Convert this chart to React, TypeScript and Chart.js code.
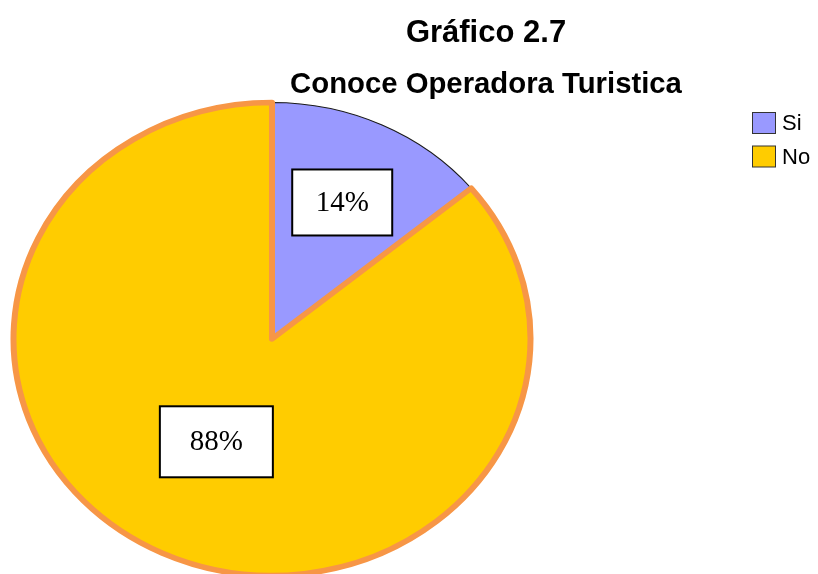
import React, { useEffect, useRef } from "react";
import { Chart, registerables } from "chart.js";

Chart.register(...registerables);

const titleLines = ["Gráfico 2.7", "Conoce Operadora Turistica"];
const categories = ["Si", "No"];
const values = [14, 86];
const valueLabels = ["14%", "88%"];
const sliceColors = ["#9999FF", "#FFCC00"];
const sliceBorderColors = ["#1a1a1a", "#F79646"];
const sliceBorderWidths = [1, 5.5];

// style constants
const ELLIPSE_SX = 1.093;
const PIE_RADIUS = 236.5;
const LABEL_RADIAL = [0.638, 0.485];
const LABEL_ANGLE_SHIFT = [0, 0.02];
const LABEL_BOX = [
  [100, 66],
  [113, 71],
];

const ellipsePlugin = {
  id: "ellipseAndLabels",
  beforeDatasetsDraw(chart: any) {
    const ca = chart.chartArea;
    const cx = (ca.left + ca.right) / 2;
    const cy = (ca.top + ca.bottom) / 2;
    const ctx = chart.ctx;
    ctx.save();
    ctx.translate(cx, cy);
    ctx.scale(ELLIPSE_SX, 1);
    ctx.translate(-cx, -cy);
  },
  afterDatasetsDraw(chart: any) {
    const ctx = chart.ctx;
    ctx.restore();
    const meta = chart.getDatasetMeta(0);
    meta.data.forEach((arc: any, i: number) => {
      const mid = (arc.startAngle + arc.endAngle) / 2 + LABEL_ANGLE_SHIFT[i];
      const r = arc.outerRadius * LABEL_RADIAL[i];
      const px = arc.x + Math.cos(mid) * r * ELLIPSE_SX;
      const py = arc.y + Math.sin(mid) * r;
      const [w, h] = LABEL_BOX[i];
      ctx.save();
      ctx.fillStyle = "#ffffff";
      ctx.fillRect(px - w / 2, py - h / 2, w, h);
      ctx.strokeStyle = "#000000";
      ctx.lineWidth = 2;
      ctx.strokeRect(px - w / 2, py - h / 2, w, h);
      ctx.fillStyle = "#000000";
      ctx.font = '29px "Liberation Serif", "Times New Roman", serif';
      ctx.textAlign = "center";
      ctx.textBaseline = "middle";
      ctx.fillText(valueLabels[i], px, py + 1);
      ctx.restore();
    });
  },
  afterDraw(chart: any) {
    const ctx = chart.ctx;
    ctx.save();
    ctx.fillStyle = "#000000";
    ctx.textAlign = "center";
    ctx.textBaseline = "alphabetic";
    ctx.font = 'bold 31px "Liberation Sans", Arial, sans-serif';
    ctx.fillText(titleLines[0], 486, 41.5);
    ctx.font = 'bold 29.3px "Liberation Sans", Arial, sans-serif';
    ctx.fillText(titleLines[1], 486, 93);
    // legend
    ctx.textAlign = "left";
    ctx.textBaseline = "middle";
    ctx.font = '22px "Liberation Sans", Arial, sans-serif';
    categories.forEach((c, i) => {
      const y = 112 + i * 33.5;
      ctx.fillStyle = sliceColors[i];
      ctx.fillRect(752.5, y + 0.5, 23, 21);
      ctx.strokeStyle = "#333333";
      ctx.lineWidth = 1;
      ctx.strokeRect(752.5, y + 0.5, 23, 21);
      ctx.fillStyle = "#000000";
      ctx.fillText(c, 782, y + 12);
    });
    ctx.restore();
  },
};

export default function App() {
  const ref = useRef<HTMLCanvasElement | null>(null);
  useEffect(() => {
    if (!ref.current) return;
    const chart = new Chart(ref.current, {
      type: "pie",
      data: {
        labels: categories,
        datasets: [
          {
            data: values,
            backgroundColor: sliceColors,
            borderColor: sliceBorderColors,
            borderWidth: sliceBorderWidths,
            borderJoinStyle: "round",
            radius: PIE_RADIUS,
            clip: false,
          } as any,
        ],
      },
      options: {
        animation: false,
        responsive: false,
        maintainAspectRatio: false,
        layout: { padding: { left: 34, right: 308, top: 110, bottom: 6 } },
        plugins: {
          legend: { display: false },
          title: { display: false },
          tooltip: { enabled: false },
        },
      },
      plugins: [ellipsePlugin],
    });
    return () => chart.destroy();
  }, []);
  return (
    <div
      style={{
        position: "fixed",
        left: 0,
        top: 0,
        width: 818,
        height: 574,
        overflow: "hidden",
        background: "#ffffff",
      }}
    >
      <canvas ref={ref} width={818} height={574} style={{ display: "block" }} />
    </div>
  );
}
